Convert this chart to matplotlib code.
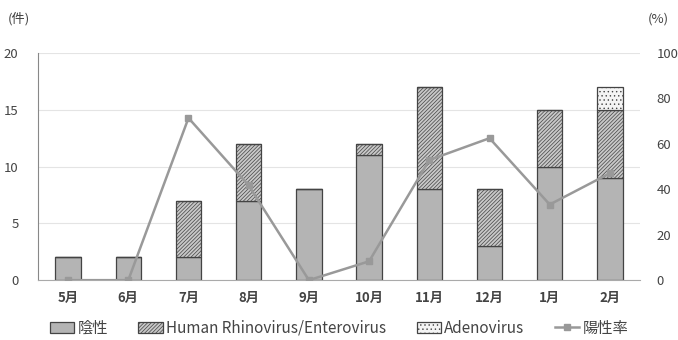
import matplotlib
matplotlib.use("Agg")
import matplotlib.pyplot as plt
import numpy as np

plt.rcParams['font.family'] = ['Noto Sans CJK JP', 'DejaVu Sans']
plt.rcParams['hatch.linewidth'] = 0.5
plt.rcParams['hatch.color'] = '#555555'

months = ['5月', '6月', '7月', '8月', '9月', '10月', '11月', '12月', '1月', '2月']
negative = [2, 2, 2, 7, 8, 11, 8, 3, 10, 9]
rhino_entero = [0, 0, 5, 5, 0, 1, 9, 5, 5, 6]
adeno = [0, 0, 0, 0, 0, 0, 0, 0, 0, 2]
positive_rate = [0, 0, 71.4, 41.7, 0, 8.3, 52.9, 62.5, 33.3, 47.1]

x = np.arange(len(months))
edge = '#444444'
txt = '#444444'

fig = plt.figure(figsize=(6.78, 3.4), dpi=100)
ax = fig.add_axes([0.056, 0.176, 0.888, 0.668])

ax.bar(x, negative, width=0.42, color='#b4b4b4', edgecolor=edge, linewidth=0.9,
       label='陰性', zorder=2)
ax.bar(x, rhino_entero, width=0.42, bottom=negative, color='#c8c8c8', edgecolor=edge,
       hatch='/////////', linewidth=0.9, label='Human Rhinovirus/Enterovirus', zorder=2)
bottom2 = np.array(negative) + np.array(rhino_entero)
ax.bar(x, adeno, width=0.42, bottom=bottom2, color='#f4f4f4', edgecolor=edge,
       hatch='....', linewidth=0.9, label='Adenovirus', zorder=2)

ax.set_ylim(0, 20)
ax.set_yticks([0, 5, 10, 15, 20])
ax.set_xlim(-0.5, len(months) - 0.5)
ax.set_xticks(x)
ax.set_xticklabels(months, fontweight='bold')
ax.grid(axis='y', color='#e4e4e4', linewidth=0.8, zorder=0)
ax.tick_params(axis='both', length=0, colors=txt, labelsize=9.5)
ax.tick_params(axis='y', pad=14)
ax.tick_params(axis='x', pad=8)
for s in ['top', 'right']:
    ax.spines[s].set_visible(False)
ax.spines['left'].set_color('#888888')
ax.spines['bottom'].set_color('#aaaaaa')

ax2 = ax.twinx()
ax2.plot(x, positive_rate, color='#999999', linewidth=1.8, marker='s', markersize=4,
         markerfacecolor='#999999', markeredgecolor='#999999', label='陽性率', zorder=3)
ax2.set_ylim(0, 100)
ax2.set_yticks([0, 20, 40, 60, 80, 100])
ax2.tick_params(axis='y', length=0, colors=txt, labelsize=9.5, pad=12)
for s in ['top', 'right', 'left', 'bottom']:
    ax2.spines[s].set_visible(False)

fig.text(0.012, 0.935, '(件)', fontsize=9.5, color=txt)
fig.text(0.955, 0.935, '(%)', fontsize=9.5, color=txt)

h1, l1 = ax.get_legend_handles_labels()
h2, l2 = ax2.get_legend_handles_labels()
fig.legend(h1 + h2, l1 + l2, loc='center', bbox_to_anchor=(0.5, 0.035), ncol=4,
           frameon=False, fontsize=11, handlelength=1.6, handletextpad=0.2,
           columnspacing=2.0, labelcolor=txt)

fig.savefig('out.png', dpi=100)
